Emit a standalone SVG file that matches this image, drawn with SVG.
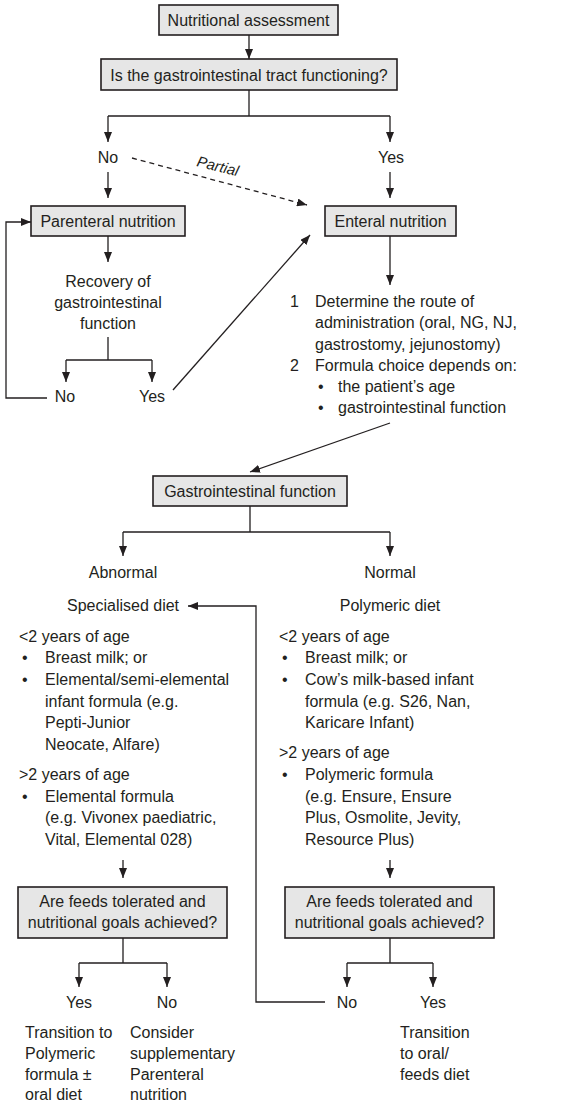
<svg xmlns="http://www.w3.org/2000/svg" width="573" height="1104" viewBox="0 0 573 1104">
<style>
text{font-family:"Liberation Sans",Arial,sans-serif;font-size:16px;fill:#231f20}
.c{text-anchor:middle}
.box{fill:#e6e6e6;stroke:#231f20;stroke-width:1.6}
.ln{fill:none;stroke:#231f20;stroke-width:1.3}
.ar{fill:none;stroke:#231f20;stroke-width:1.3;marker-end:url(#ah)}
.dash{fill:none;stroke:#231f20;stroke-width:1.3;stroke-dasharray:5,4;marker-end:url(#ah)}
</style>
<defs>
<marker id="ah" markerUnits="userSpaceOnUse" markerWidth="10" markerHeight="8" refX="10" refY="4" orient="auto">
<path d="M0,0 L10,4 L0,8 z" fill="#231f20"/>
</marker>
</defs>
<rect width="573" height="1104" fill="#fff"/>

<g id="connectors">
<line class="ar" x1="249" y1="35" x2="249" y2="59"/>
<path class="ln" d="M249,90 V116 M108,116 H390"/>
<line class="ar" x1="108" y1="116" x2="108" y2="142"/>
<line class="ar" x1="390" y1="116" x2="390" y2="142"/>
<line class="ar" x1="108" y1="172" x2="108" y2="198"/>
<line class="ar" x1="390" y1="172" x2="390" y2="198"/>
<line class="dash" x1="132" y1="158" x2="307" y2="205"/>
<line class="ar" x1="108" y1="236" x2="108" y2="262"/>
<path class="ln" d="M108,337 V360 M66,360 H152"/>
<line class="ar" x1="66" y1="360" x2="66" y2="382"/>
<line class="ar" x1="152" y1="360" x2="152" y2="382"/>
<path class="ar" d="M47,398 H6 V222 H31"/>
<line class="ar" x1="173" y1="390" x2="310" y2="235"/>
<line class="ar" x1="390" y1="236" x2="390" y2="285"/>
<line class="ar" x1="390" y1="423" x2="250" y2="472"/>
<path class="ln" d="M250,506 V532 M123,532 H390"/>
<line class="ar" x1="123" y1="532" x2="123" y2="556"/>
<line class="ar" x1="390" y1="532" x2="390" y2="556"/>
<path class="ar" d="M325,1002 H256 V606 H188"/>
<line class="ar" x1="123" y1="860" x2="123" y2="878"/>
<line class="ar" x1="390" y1="860" x2="390" y2="878"/>
<path class="ln" d="M123,938 V963 M79,963 H167"/>
<line class="ar" x1="79" y1="963" x2="79" y2="987"/>
<line class="ar" x1="167" y1="963" x2="167" y2="987"/>
<path class="ln" d="M390,938 V963 M347,963 H433"/>
<line class="ar" x1="347" y1="963" x2="347" y2="987"/>
<line class="ar" x1="433" y1="963" x2="433" y2="987"/>
</g>

<g id="n-assessment">
<rect class="box" x="159" y="5" width="179" height="30"/>
<text class="c" x="248.5" y="26">Nutritional assessment</text>
</g>
<g id="n-gi-tract">
<rect class="box" x="101" y="59" width="296" height="31"/>
<text class="c" x="249" y="81">Is the gastrointestinal tract functioning?</text>
</g>
<g id="n-no1"><text class="c" x="108" y="163">No</text></g>
<g id="n-yes1"><text class="c" x="391" y="163">Yes</text></g>
<g id="n-partial"><text x="196" y="166" transform="rotate(14 196 166)" style="font-style:italic;font-size:15px">Partial</text></g>
<g id="n-parenteral">
<rect class="box" x="31" y="206" width="154" height="30"/>
<text class="c" x="108" y="227">Parenteral nutrition</text>
</g>
<g id="n-enteral">
<rect class="box" x="325" y="206" width="131" height="30"/>
<text class="c" x="390.5" y="227">Enteral nutrition</text>
</g>
<g id="n-recovery">
<text class="c" x="108" y="287">Recovery of</text>
<text class="c" x="108" y="308">gastrointestinal</text>
<text class="c" x="108" y="329">function</text>
</g>
<g id="n-no2"><text class="c" x="65" y="402">No</text></g>
<g id="n-yes2"><text class="c" x="152" y="402">Yes</text></g>
<g id="n-enteral-steps">
<text x="290" y="307">1</text><text x="315" y="307">Determine the route of</text>
<text x="315" y="328">administration (oral, NG, NJ,</text>
<text x="315" y="350">gastrostomy, jejunostomy)</text>
<text x="290" y="371">2</text><text x="315" y="371">Formula choice depends on:</text>
<text x="318" y="392">•</text><text x="338" y="392">the patient’s age</text>
<text x="318" y="413">•</text><text x="338" y="413">gastrointestinal function</text>
</g>
<g id="n-gi-function">
<rect class="box" x="153" y="476" width="194" height="30"/>
<text class="c" x="250" y="497">Gastrointestinal function</text>
</g>
<g id="n-abnormal"><text class="c" x="123" y="578">Abnormal</text></g>
<g id="n-normal"><text class="c" x="390" y="578">Normal</text></g>
<g id="n-specialised">
<text class="c" x="123" y="611">Specialised diet</text>
<text x="19" y="642">&lt;2 years of age</text>
<text x="22" y="663">•</text><text x="45" y="663">Breast milk; or</text>
<text x="22" y="685">•</text><text x="45" y="685">Elemental/semi-elemental</text>
<text x="45" y="707">infant formula (e.g.</text>
<text x="45" y="728">Pepti-Junior</text>
<text x="45" y="750">Neocate, Alfare)</text>
<text x="19" y="780">&gt;2 years of age</text>
<text x="22" y="802">•</text><text x="45" y="802">Elemental formula</text>
<text x="45" y="823">(e.g. Vivonex paediatric,</text>
<text x="45" y="845">Vital, Elemental 028)</text>
</g>
<g id="n-polymeric">
<text class="c" x="390" y="611">Polymeric diet</text>
<text x="279" y="642">&lt;2 years of age</text>
<text x="282" y="663">•</text><text x="305" y="663">Breast milk; or</text>
<text x="282" y="685">•</text><text x="305" y="685">Cow’s milk-based infant</text>
<text x="305" y="707">formula (e.g. S26, Nan,</text>
<text x="305" y="728">Karicare Infant)</text>
<text x="279" y="758">&gt;2 years of age</text>
<text x="282" y="780">•</text><text x="305" y="780">Polymeric formula</text>
<text x="305" y="802">(e.g. Ensure, Ensure</text>
<text x="305" y="823">Plus, Osmolite, Jevity,</text>
<text x="305" y="845">Resource Plus)</text>
</g>
<g id="n-feeds-left">
<rect class="box" x="18" y="887" width="209" height="51"/>
<text class="c" x="122.5" y="907">Are feeds tolerated and</text>
<text class="c" x="122.5" y="928">nutritional goals achieved?</text>
</g>
<g id="n-feeds-right">
<rect class="box" x="285" y="887" width="209" height="51"/>
<text class="c" x="389.5" y="907">Are feeds tolerated and</text>
<text class="c" x="389.5" y="928">nutritional goals achieved?</text>
</g>
<g id="n-yes3"><text class="c" x="79" y="1008">Yes</text></g>
<g id="n-no3"><text class="c" x="167" y="1008">No</text></g>
<g id="n-no4"><text class="c" x="347" y="1008">No</text></g>
<g id="n-yes4"><text class="c" x="433" y="1008">Yes</text></g>
<g id="n-transition-polymeric">
<text x="25" y="1038">Transition to</text>
<text x="25" y="1059">Polymeric</text>
<text x="25" y="1080">formula ±</text>
<text x="25" y="1100">oral diet</text>
</g>
<g id="n-consider">
<text x="130" y="1038">Consider</text>
<text x="130" y="1059">supplementary</text>
<text x="130" y="1080">Parenteral</text>
<text x="130" y="1100">nutrition</text>
</g>
<g id="n-transition-oral">
<text x="400" y="1038">Transition</text>
<text x="400" y="1059">to oral/</text>
<text x="400" y="1080">feeds diet</text>
</g>
</svg>
